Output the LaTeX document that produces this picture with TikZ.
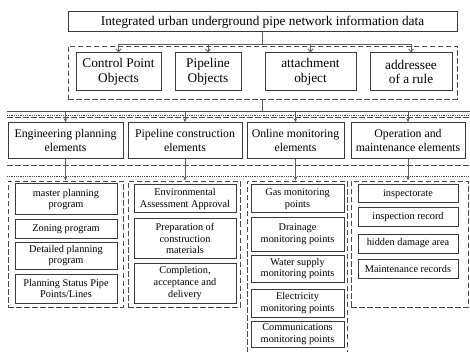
\documentclass[tikz,border=0pt]{standalone}
\usepackage{fontspec}
\setmainfont{Liberation Serif}
\usetikzlibrary{arrows.meta}
\definecolor{boxline}{HTML}{3A3A3A}
\definecolor{linkgray}{HTML}{5E5E5E}
\definecolor{dashgray}{HTML}{4A4A4A}
\tikzset{
  box/.style={draw=boxline,line width=1pt,align=center,inner sep=0pt,text=black},
  headbox/.style={box,font=\fontsize{13.3}{14.6}\selectfont},
  elembox/.style={box,font=\fontsize{11.8}{13.3}\selectfont},
  itembox/.style={box,font=\fontsize{10.3}{11.7}\selectfont},
  groupbox/.style={draw=dashgray,line width=0.9pt,dash pattern=on 5.5pt off 2.5pt,inner sep=0pt},
  link/.style={draw=linkgray,line width=0.9pt},
  openarrow/.style={link,-{Straight Barb[length=3pt,width=5pt]}},
  filledarrow/.style={link,-{Stealth[length=4pt,width=3.5pt]}},
  sepline/.style={draw=dashgray,line width=0.8pt},
  stipple/.style={sepline,dash pattern=on 0.8pt off 1pt}
}

\begin{document}
\begin{tikzpicture}[x=1pt,y=-1pt]
  \useasboundingbox (0,0) rectangle (470,352);

  % data and object layer
  \node[headbox,minimum width=389,minimum height=20] (top) at (262.5,22)
    {Integrated urban underground pipe network information data};
  \node[groupbox,minimum width=389,minimum height=53] (objs) at (262.5,72.5) {};
  \node[headbox,minimum width=85,minimum height=38] (o1) at (118.5,72) {Control Point\\Objects};
  \node[headbox,minimum width=66,minimum height=38] (o2) at (208,72) {Pipeline\\Objects};
  \node[headbox,minimum width=91,minimum height=38] (o3) at (310.5,72) {attachment\\object};
  \node[headbox,minimum width=82,minimum height=38] (o4) at (411,72) {addressee\\of a rule};

  \draw[link] (top.south) -- ++(0,12) coordinate (split1);
  \draw[link] (split1 -| o1.north) -- (split1 -| o4.north);
  \foreach \n in {o1,o2,o3,o4}{\draw[openarrow] (split1 -| \n.north) -- (\n.north);}

  % band separators
  \draw[sepline] (7,111) -- (470,111);
  \draw[stipple] (7,115) -- (470,115);
  \draw[sepline,dash pattern=on 5.5pt off 2.5pt] (7,117.5) -- (470,117.5);
  \draw[sepline,dash pattern=on 5.5pt off 2.5pt] (7,165) -- (470,165);
  \draw[stipple] (7,176) -- (470,176);

  % element layer
  \node[elembox,minimum width=115,minimum height=35.5] (e1) at (65.5,140.5) {Engineering planning\\elements};
  \node[elembox,minimum width=114,minimum height=35.5] (e2) at (185,140.5) {Pipeline construction\\elements};
  \node[elembox,minimum width=97,minimum height=35.5] (e3) at (295.5,140.5) {Online monitoring\\elements};
  \node[elembox,minimum width=114,minimum height=35.5] (e4) at (408,140.5) {Operation and\\maintenance elements};

  \draw[link] (objs.south) -- (objs.south |- 0,111) coordinate (split2);
  \foreach \n in {e1,e2,e3,e4}{\draw[filledarrow] (split2 -| \n.north) -- (\n.north);}

  % content groups
  \node[groupbox,minimum width=115,minimum height=126] (g1) at (65.5,244) {};
  \node[groupbox,minimum width=112,minimum height=126] (g2) at (184,244) {};
  \node[groupbox,minimum width=100,minimum height=178] (g3) at (297,270) {};
  \node[groupbox,minimum width=117,minimum height=126] (g4) at (409.5,244) {};
  \foreach \e/\g in {e1/g1,e2/g2,e3/g3,e4/g4}{\draw[filledarrow] (\e.south) -- (\e.south |- \g.north);}

  \node[itembox,minimum width=102,minimum height=31] (a1) at (66,199.5) {master planning\\program};
  \node[itembox,minimum width=102,minimum height=18] (a2) at (66,229) {Zoning program};
  \node[itembox,minimum width=102,minimum height=27] (a3) at (66,255.5) {Detailed planning\\program};
  \node[itembox,minimum width=102,minimum height=29] (a4) at (66,288.5) {Planning Status Pipe\\Points/Lines};

  \node[itembox,minimum width=102,minimum height=28] (b1) at (185,199) {Environmental\\Assessment Approval};
  \node[itembox,minimum width=102,minimum height=39] (b2) at (185,238.5) {Preparation of\\construction\\materials};
  \node[itembox,minimum width=102,minimum height=40] (b3) at (185,283) {Completion,\\acceptance and\\delivery};

  \node[itembox,minimum width=93,minimum height=28] (c1) at (297.5,199) {Gas monitoring\\points};
  \node[itembox,minimum width=93,minimum height=33] (c2) at (297.5,234.5) {Drainage\\monitoring points};
  \node[itembox,minimum width=93,minimum height=27] (c3) at (297.5,268.5) {Water supply\\monitoring points};
  \node[itembox,minimum width=93,minimum height=28] (c4) at (297.5,303) {Electricity\\monitoring points};
  \node[itembox,minimum width=93,minimum height=26] (c5) at (297.5,334) {Communications\\monitoring points};

  \node[itembox,minimum width=100,minimum height=18] (d1) at (408,194) {inspectorate};
  \node[itembox,minimum width=100,minimum height=19] (d2) at (408,217.5) {inspection record};
  \node[itembox,minimum width=100,minimum height=19] (d3) at (408,243.5) {hidden damage area};
  \node[itembox,minimum width=100,minimum height=19] (d4) at (408,268.5) {Maintenance records};
\end{tikzpicture}
\end{document}
